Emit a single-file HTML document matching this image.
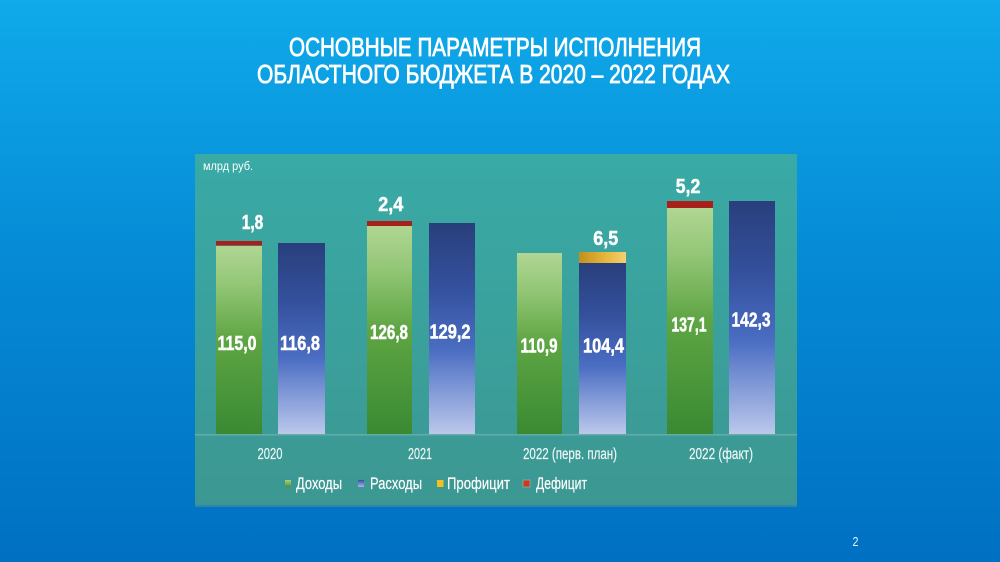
<!DOCTYPE html>
<html>
<head>
<meta charset="utf-8">
<style>
html,body{margin:0;padding:0;width:1000px;height:562px;overflow:hidden;}
svg{display:block;}
text{font-family:"Liberation Sans","DejaVu Sans",sans-serif;}
</style>
</head>
<body>
<svg width="1000" height="562" viewBox="0 0 1000 562" xmlns="http://www.w3.org/2000/svg">
<defs>
<linearGradient id="bg" x1="0" y1="0" x2="0" y2="1">
<stop offset="0" stop-color="#0faaea"/>
<stop offset="0.45" stop-color="#068bd6"/>
<stop offset="1" stop-color="#0070c2"/>
</linearGradient>
<linearGradient id="panel" x1="0" y1="0" x2="0" y2="1">
<stop offset="0" stop-color="#39aaa6"/>
<stop offset="1" stop-color="#3c9792"/>
</linearGradient>
<linearGradient id="gr" x1="0" y1="0" x2="0" y2="1">
<stop offset="0" stop-color="#b0d693"/>
<stop offset="0.2" stop-color="#94c777"/>
<stop offset="0.5" stop-color="#5ea543"/>
<stop offset="1" stop-color="#3a8a33"/>
</linearGradient>
<linearGradient id="bl" x1="0" y1="0" x2="0" y2="1">
<stop offset="0" stop-color="#293f7c"/>
<stop offset="0.3" stop-color="#34509c"/>
<stop offset="0.6" stop-color="#4a6dc2"/>
<stop offset="1" stop-color="#bcc8ec"/>
</linearGradient>
<linearGradient id="gold" x1="0" y1="0" x2="1" y2="0">
<stop offset="0" stop-color="#c48f1c"/>
<stop offset="0.6" stop-color="#e8b840"/>
<stop offset="1" stop-color="#f4d070"/>
</linearGradient>
<linearGradient id="lgg" x1="0" y1="0" x2="0" y2="1">
<stop offset="0" stop-color="#a8d080"/>
<stop offset="1" stop-color="#4a9238"/>
</linearGradient>
<linearGradient id="lgb" x1="0" y1="0" x2="0" y2="1">
<stop offset="0" stop-color="#34509c"/>
<stop offset="1" stop-color="#a8b8e8"/>
</linearGradient>
</defs>

<rect x="0" y="0" width="1000" height="562" fill="url(#bg)"/>

<!-- title -->
<text x="289" y="56" font-size="26" fill="#ffffff" stroke="#ffffff" stroke-width="0.8" textLength="412" lengthAdjust="spacingAndGlyphs">ОСНОВНЫЕ ПАРАМЕТРЫ ИСПОЛНЕНИЯ</text>
<text x="257" y="83" font-size="26" fill="#ffffff" stroke="#ffffff" stroke-width="0.8" textLength="473" lengthAdjust="spacingAndGlyphs">ОБЛАСТНОГО БЮДЖЕТА В 2020 – 2022 ГОДАХ</text>

<!-- panel -->
<rect x="195" y="154" width="602" height="352" fill="url(#panel)"/>
<rect x="195" y="505" width="602" height="2" fill="#2f86a8"/>

<text x="203" y="170" font-size="12" fill="#ffffff" textLength="50" lengthAdjust="spacingAndGlyphs">млрд руб.</text>

<!-- bars -->
<rect x="216" y="246" width="46" height="188" fill="url(#gr)"/>
<rect x="216" y="241" width="46" height="4.5" fill="#a8201a"/>
<rect x="278" y="243" width="47" height="191" fill="url(#bl)"/>
<rect x="367" y="226" width="45" height="208" fill="url(#gr)"/>
<rect x="367" y="221" width="45" height="5" fill="#a8201a"/>
<rect x="429" y="223" width="46" height="211" fill="url(#bl)"/>
<rect x="517" y="253" width="45" height="181" fill="url(#gr)"/>
<rect x="579" y="263" width="47" height="171" fill="url(#bl)"/>
<rect x="579" y="252" width="47" height="11" fill="url(#gold)"/>
<rect x="667" y="208" width="46" height="226" fill="url(#gr)"/>
<rect x="667" y="201" width="46" height="7" fill="#a8201a"/>
<rect x="729" y="201" width="46" height="233" fill="url(#bl)"/>

<!-- axis -->
<rect x="195" y="434" width="602" height="1.5" fill="#63aca7"/>

<!-- value labels -->
<g font-size="20" font-weight="bold" fill="#ffffff" stroke="#ffffff" stroke-width="0.5" text-anchor="middle">
<text x="237" y="350" textLength="39" lengthAdjust="spacingAndGlyphs">115,0</text>
<text x="300" y="350" textLength="40" lengthAdjust="spacingAndGlyphs">116,8</text>
<text x="389" y="339" textLength="38" lengthAdjust="spacingAndGlyphs">126,8</text>
<text x="450" y="338.5" textLength="41" lengthAdjust="spacingAndGlyphs">129,2</text>
<text x="539" y="352.5" textLength="37" lengthAdjust="spacingAndGlyphs">110,9</text>
<text x="603.5" y="352.5" textLength="41" lengthAdjust="spacingAndGlyphs">104,4</text>
<text x="689" y="331.5" textLength="35" lengthAdjust="spacingAndGlyphs">137,1</text>
<text x="751" y="326.5" textLength="39" lengthAdjust="spacingAndGlyphs">142,3</text>

<text x="252.5" y="229" textLength="21.5" lengthAdjust="spacingAndGlyphs">1,8</text>
<text x="390.8" y="211" textLength="25" lengthAdjust="spacingAndGlyphs">2,4</text>
<text x="605.8" y="245" textLength="25" lengthAdjust="spacingAndGlyphs">6,5</text>
<text x="688" y="193" textLength="24.5" lengthAdjust="spacingAndGlyphs">5,2</text>
</g>

<!-- category labels -->
<g font-size="15.5" fill="#eef7f6" stroke="#eef7f6" stroke-width="0.2" text-anchor="middle">
<text x="270" y="459" textLength="25" lengthAdjust="spacingAndGlyphs">2020</text>
<text x="420" y="459" textLength="24" lengthAdjust="spacingAndGlyphs">2021</text>
<text x="570" y="459" textLength="94" lengthAdjust="spacingAndGlyphs">2022 (перв. план)</text>
<text x="721" y="459" textLength="64" lengthAdjust="spacingAndGlyphs">2022 (факт)</text>
</g>

<!-- legend -->
<rect x="285" y="480" width="6" height="7" fill="url(#lgg)"/>
<rect x="358" y="480" width="6" height="7" fill="url(#lgb)"/>
<rect x="437" y="480" width="6.5" height="7" fill="#f2c020"/>
<rect x="523" y="480" width="7" height="7" fill="#cc3a1c" stroke="#9aa8a6" stroke-width="0.8"/>
<g font-size="16.5" fill="#ffffff" stroke="#ffffff" stroke-width="0.2">
<text x="296" y="489" textLength="46" lengthAdjust="spacingAndGlyphs">Доходы</text>
<text x="370" y="489" textLength="52" lengthAdjust="spacingAndGlyphs">Расходы</text>
<text x="447" y="489" textLength="63" lengthAdjust="spacingAndGlyphs">Профицит</text>
<text x="536" y="489" textLength="51" lengthAdjust="spacingAndGlyphs">Дефицит</text>
</g>

<!-- page number -->
<text x="852.5" y="546" font-size="13" fill="#e6f2fa" textLength="6" lengthAdjust="spacingAndGlyphs">2</text>
</svg>
</body>
</html>
